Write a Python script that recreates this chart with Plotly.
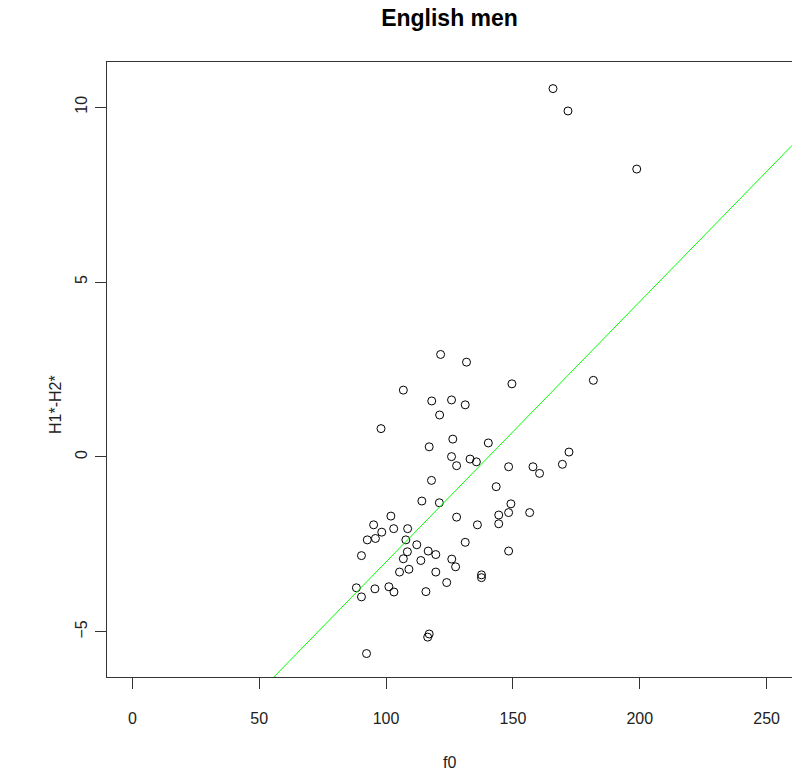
import plotly.graph_objects as go

# f0 (Hz) and H1*-H2* (dB) for English men
f0 = [165.8, 171.7, 198.8, 121.5, 131.7, 181.7, 149.6, 106.8, 118.0, 125.8,
      131.2, 121.1, 98.0, 126.3, 140.3, 117.0, 172.1, 125.8, 133.1, 135.6,
      127.8, 148.3, 157.9, 160.5, 169.5, 117.9, 143.4, 114.1, 121.0, 149.2,
      148.3, 156.6, 144.4, 101.9, 127.8, 95.1, 136.0, 144.4, 103.0, 108.5,
      98.3, 92.6, 95.8, 107.8, 131.2, 112.1, 148.3, 90.3, 108.4, 116.6,
      119.6, 106.8, 113.7, 125.9, 127.4, 105.3, 109.0, 119.6, 137.6, 137.6,
      123.9, 88.3, 90.3, 95.6, 101.1, 103.1, 115.7, 117.0, 116.4, 92.3]
h1h2 = [10.53, 9.89, 8.23, 2.93, 2.71, 2.19, 2.09, 1.91, 1.60, 1.63,
        1.49, 1.20, 0.81, 0.51, 0.40, 0.29, 0.14, 0.01, -0.06, -0.14,
        -0.25, -0.28, -0.28, -0.47, -0.21, -0.67, -0.85, -1.26, -1.31, -1.34,
        -1.59, -1.59, -1.66, -1.69, -1.72, -1.94, -1.94, -1.91, -2.05, -2.05,
        -2.15, -2.37, -2.33, -2.37, -2.44, -2.51, -2.69, -2.82, -2.71, -2.69,
        -2.79, -2.91, -2.96, -2.92, -3.14, -3.29, -3.21, -3.29, -3.37, -3.45,
        -3.59, -3.74, -4.00, -3.77, -3.71, -3.86, -3.85, -5.06, -5.15, -5.62]

# fitted line (abline)
line_intercept = -10.44
line_slope = 0.0744

x_range = [-10, 260]
y_range = [-6.29, 11.29]
x_ticks = [0, 50, 100, 150, 200, 250]
y_ticks = [-5, 0, 5, 10]

line_x = x_range
line_y = [line_intercept + line_slope * v for v in line_x]

fig = go.Figure()
fig.add_trace(go.Scatter(
    x=f0, y=h1h2, mode="markers",
    marker=dict(symbol="circle-open", size=8, color="black",
                line=dict(width=1, color="black")),
    showlegend=False, hoverinfo="skip"))
fig.add_trace(go.Scatter(
    x=line_x, y=line_y, mode="lines",
    line=dict(color="#00ff00", width=1),
    showlegend=False, hoverinfo="skip"))

font_family = "Liberation Sans, Arial, sans-serif"
fig.update_layout(
    width=792, height=771,
    margin=dict(l=107, r=0, t=62, b=94),
    paper_bgcolor="white", plot_bgcolor="white",
    font=dict(family=font_family, size=16, color="black"),
    title=dict(text="<b>English men</b>", x=0.5, xref="paper",
               y=1 - 18 / 771, yref="container", yanchor="middle",
               xanchor="center", font=dict(size=23, color="black")),
    xaxis=dict(range=x_range, tickvals=x_ticks, showgrid=False,
               zeroline=False, showline=True, mirror=True,
               linecolor="#333333", linewidth=1, ticks="outside",
               ticklen=11, tickcolor="#333333", tickwidth=1,
               ticklabelstandoff=16, tickfont=dict(size=16, color="#222222")),
    yaxis=dict(range=y_range, tickvals=y_ticks, showgrid=False,
               zeroline=False, showline=True, mirror=False,
               linecolor="#333333", linewidth=1, ticks="outside",
               ticklen=11, tickcolor="#333333", tickwidth=1,
               ticklabelstandoff=2,
               tickangle=-90, tickfont=dict(size=16, color="#222222")),
    annotations=[
        dict(text="f0", xref="paper", yref="paper", x=0.5, y=-(762 - 677) / 615,
             xanchor="center", yanchor="middle", showarrow=False,
             font=dict(size=16, color="#222222")),
        dict(text="H1*-H2*", xref="paper", yref="paper", x=-(107 - 55) / 685,
             y=(677 - 405) / 615,
             xanchor="center", yanchor="middle", showarrow=False, textangle=-90,
             font=dict(size=16, color="#222222")),
    ],
)

fig.write_html("out.html")
